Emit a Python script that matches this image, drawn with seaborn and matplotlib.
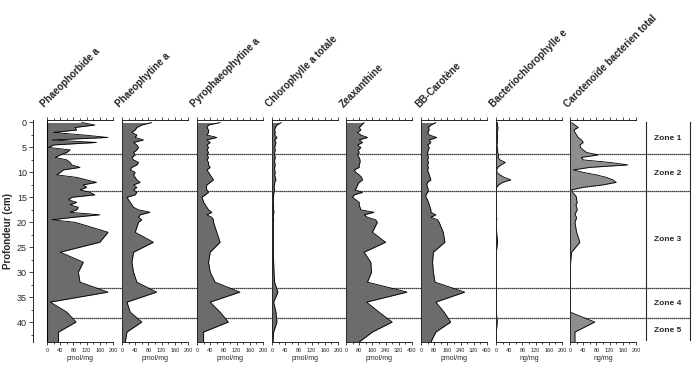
import matplotlib
matplotlib.use("Agg")
import matplotlib.pyplot as plt
import numpy as np
import pandas as pd
import seaborn as sns
from matplotlib.ticker import MultipleLocator

# sample depths (cm)
depth = [0, 0.5, 1, 1.5, 2, 2.5, 3, 3.5, 4, 4.5, 5, 5.5, 6, 6.5, 7, 7.5, 8, 8.5, 9, 9.5,
         10, 10.5, 11, 11.5, 12, 12.5, 13, 13.5, 14, 14.5, 15, 15.5, 16, 16.5, 17, 17.5,
         18, 18.5, 19, 19.5, 20, 22, 24, 26, 28, 30, 32, 34, 36, 38, 40, 42, 44]

phaeophorbide = [105, 145, 85, 90, 20, 110, 185, 15, 150, 20, 5, 70, 60, 40, 25, 60, 70, 75, 100, 50,
                 40, 30, 90, 120, 150, 110, 120, 100, 130, 145, 75, 65, 90, 70, 95, 90, 70, 160, 80, 15,
                 85, 185, 160, 40, 110, 95, 100, 185, 10, 60, 88, 35, 35]
phaeophytine = [90, 60, 45, 40, 30, 45, 40, 65, 35, 45, 50, 45, 35, 40, 30, 35, 50, 45, 30, 25,
                40, 35, 40, 45, 55, 35, 45, 35, 45, 40, 15, 20, 25, 30, 35, 50, 85, 55, 50, 60,
                50, 40, 95, 35, 30, 35, 45, 105, 15, 25, 60, 15, 10]
pyrophaeophytine = [70, 35, 30, 35, 35, 30, 60, 30, 40, 30, 35, 30, 35, 30, 35, 30, 35, 35, 40, 30,
                    35, 40, 45, 50, 40, 30, 28, 30, 35, 25, 15, 18, 20, 25, 30, 35, 45, 30, 45, 50,
                    50, 60, 70, 40, 35, 40, 55, 130, 40, 70, 95, 20, 20]
chlorophylle = [28, 15, 10, 8, 10, 8, 15, 8, 12, 10, 8, 10, 8, 8, 10, 8, 8, 10, 8, 8,
                10, 8, 10, 12, 8, 8, 6, 8, 6, 5, 4, 4, 4, 5, 4, 5, 6, 4, 4, 5,
                4, 4, 4, 4, 5, 6, 8, 18, 5, 12, 15, 5, 3]
zeaxanthine = [110, 95, 80, 90, 70, 90, 130, 80, 100, 70, 90, 75, 80, 70, 80, 85, 85, 80, 80, 50,
               60, 80, 95, 100, 80, 70, 65, 55, 100, 50, 40, 60, 80, 80, 85, 90, 170, 110, 130, 180,
               190, 160, 240, 110, 150, 155, 130, 370, 125, 200, 280, 160, 80]
bb_carotene = [90, 60, 45, 50, 40, 50, 95, 50, 60, 40, 50, 45, 40, 40, 45, 40, 45, 40, 45, 40,
               45, 50, 55, 60, 40, 35, 40, 45, 40, 30, 30, 40, 45, 50, 55, 60, 60, 90, 60, 100,
               110, 135, 145, 75, 70, 75, 85, 265, 90, 140, 180, 90, 60]
bacteriochl = [5, 4, 6, 5, 4, 4, 5, 4, 4, 3, 4, 5, 5, 8, 6, 12, 28, 15, 5, 2,
               3, 12, 25, 45, 20, 8, 2, 1, 1, 1, 1, 1, 2, 1, 1, 2, 1, 1, 2, 2,
               1, 2, 5, 1, 1, 1, 1, 1, 1, 1, 4, 1, 1]
carot_bact = [5, 15, 25, 12, 15, 20, 25, 35, 40, 30, 32, 40, 50, 85, 35, 40, 120, 175, 60, 10,
              40, 80, 110, 130, 140, 100, 40, 5, 8, 15, 20, 20, 22, 18, 20, 22, 18, 15, 20, 18,
              15, 20, 30, 5, 2, 1, 1, 1, 1, 0, 75, 15, 15]

names = ["Phaeophorbide a", "Phaeophytine a", "Pyrophaeophytine a", "Chlorophylle a totale",
         "Zeaxanthine", "BB-Carotène", "Bacteriochlorophylle e", "Carotenoïde bacterien total"]
series = [phaeophorbide, phaeophytine, pyrophaeophytine, chlorophylle,
          zeaxanthine, bb_carotene, bacteriochl, carot_bact]
units = ["pmol/mg"] * 6 + ["ng/mg"] * 2
xmax = [200, 200, 200, 200, 400, 400, 200, 200]

zone_bounds = [6.3, 13.7, 33.2, 39.1]
zone_labels = ["Zone 1", "Zone 2", "Zone 3", "Zone 4", "Zone 5"]
zone_mid = [3.3, 10.2, 23.5, 36.2, 41.7]

sns.set_style("ticks")
plt.rcParams['font.family'] = ['Liberation Sans', 'DejaVu Sans']

W, H = 700, 373
fig = plt.figure(figsize=(7, 3.73), dpi=100)


def px(x0, y0, w, h):
    return [x0 / W, 1 - (y0 + h) / H, w / W, h / H]


top_px, bot_px = 120, 342
ah = bot_px - top_px
lefts = [47, 122, 197, 272, 346, 421, 496, 570]
pw = 66
ylims = (44, -0.5)

# dotted zone limits running behind all panels
over = fig.add_axes(px(47, top_px, 690 - 47, ah), zorder=0)
over.set_xlim(0, 1)
over.set_ylim(*ylims)
over.axis('off')
for z in zone_bounds:
    over.axhline(z, color='black', lw=0.9, ls=(0, (1, 0.6)))

for i, (name, vals) in enumerate(zip(names, series)):
    ax = fig.add_axes(px(lefts[i], top_px, pw, ah), zorder=1)
    ax.set_facecolor('none')
    fc = '#6c6c6c' if i < 6 else '#8e8e8e'
    ax.fill_betweenx(depth, 0, vals, color=fc, lw=0)
    sns.lineplot(x=vals, y=depth, orient='y', sort=False, color='black', lw=0.6, ax=ax)
    ax.set_xlim(0, xmax[i])
    ax.set_ylim(*ylims)
    ax.spines['right'].set_visible(False)
    for s in ['top', 'bottom', 'left']:
        ax.spines[s].set_linewidth(0.7)
    step = xmax[i] / 5
    ax.xaxis.set_major_locator(MultipleLocator(step))
    ax.xaxis.set_minor_locator(MultipleLocator(step / 2))
    ax.tick_params(axis='x', which='both', top=True, bottom=True, direction='out',
                   labelsize=4, pad=1.5, width=0.6)
    ax.tick_params(axis='x', which='major', length=2.5)
    ax.tick_params(axis='x', which='minor', length=1.5)
    ax.set_xlabel(units[i], fontsize=5, labelpad=2)
    ax.text(-0.03, 1.054, name, transform=ax.transAxes, rotation=45,
            rotation_mode='anchor', ha='left', va='baseline', fontsize=7, fontweight='bold')
    if i == 0:
        ax.spines['left'].set_position(('outward', 10))
        ax.axvline(0, color='black', lw=0.8)
        ax.yaxis.set_major_locator(MultipleLocator(5))
        ax.yaxis.set_minor_locator(MultipleLocator(2.5))
        ax.tick_params(axis='y', which='both', labelsize=6.5, width=0.6, pad=1.5)
        ax.tick_params(axis='y', which='major', length=3)
        ax.tick_params(axis='y', which='minor', length=1.8)
        ax.set_ylabel("Profondeur (cm)", fontsize=7, fontweight='bold', labelpad=3)
    else:
        ax.tick_params(axis='y', which='both', left=False, labelleft=False)
        ax.set_ylabel("")

# zone column
zax = fig.add_axes(px(646, top_px, 44, ah), zorder=1)
zax.set_facecolor('none')
zax.set_ylim(*ylims)
zax.set_xlim(0, 1)
for s in ['top', 'bottom']:
    zax.spines[s].set_visible(False)
for s in ['left', 'right']:
    zax.spines[s].set_linewidth(0.8)
    zax.spines[s].set_bounds(0, 43.6)
zax.set_xticks([])
zax.set_yticks([])
for lab, m in zip(zone_labels, zone_mid):
    zax.text(0.5, m, lab, ha='center', va='center', fontsize=6, fontweight='bold')

fig.savefig('out.png', dpi=100)
